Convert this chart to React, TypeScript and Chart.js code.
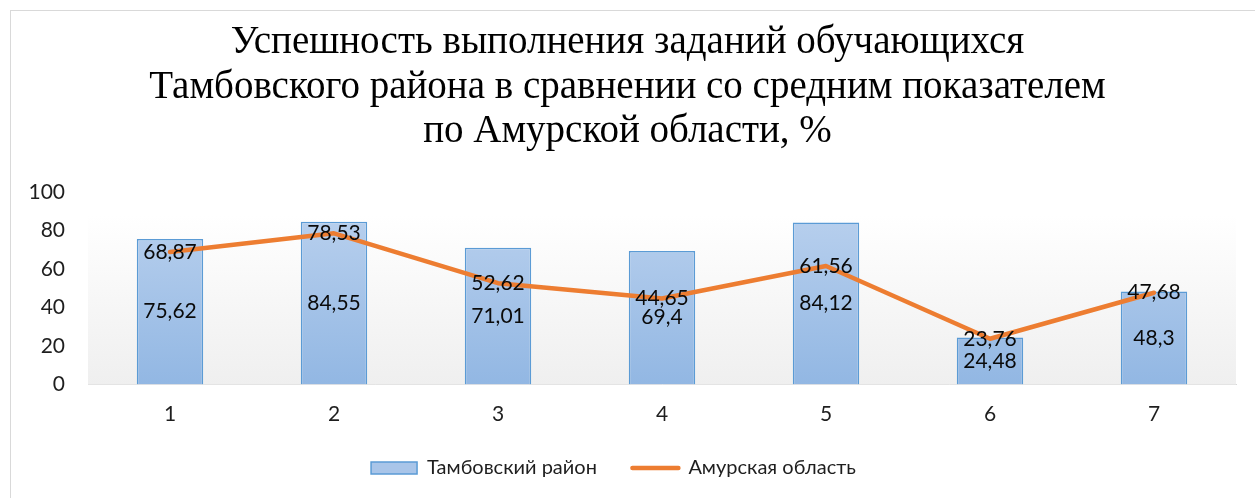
import React, { useEffect, useRef } from "react";
import { Chart, registerables } from "chart.js";

Chart.register(...registerables);

const titleLines = [
  "Успешность выполнения заданий обучающихся",
  "Тамбовского района в сравнении со средним показателем",
  "по Амурской области, %",
];
const categories = ["1", "2", "3", "4", "5", "6", "7"];
const tambovValues = [75.62, 84.55, 71.01, 69.4, 84.12, 24.48, 48.3];
const amurValues = [68.87, 78.53, 52.62, 44.65, 61.56, 23.76, 47.68];
const seriesNames = ["Тамбовский район", "Амурская область"];

const fmt = (v: number) => String(v).replace(".", ",");

const FONT = "Lato";
const TEXT = "#1e1e1e";

const bgPlugin = {
  id: "plotBg",
  beforeDatasetsDraw(chart: any) {
    const { ctx, chartArea } = chart;
    if (!chartArea) return;
    const g = ctx.createLinearGradient(0, chartArea.top, 0, chartArea.bottom);
    g.addColorStop(0, "#ffffff");
    g.addColorStop(0.12, "#ffffff");
    g.addColorStop(1, "#efefef");
    ctx.save();
    ctx.fillStyle = g;
    ctx.fillRect(chartArea.left, chartArea.top, chartArea.right - chartArea.left, chartArea.bottom - chartArea.top);
    ctx.restore();
  },
};

const legendShiftPlugin = {
  id: "legendShift",
  afterLayout(chart: any) {
    const lg = chart.legend;
    if (lg) {
      lg.left -= 14;
      lg.right -= 14;
    }
  },
};

const labelPlugin = {
  id: "valueLabels",
  afterDatasetsDraw(chart: any) {
    const { ctx } = chart;
    ctx.save();
    ctx.font = `21px ${FONT}`;
    ctx.fillStyle = "#0a0a0a";
    ctx.textAlign = "center";
    ctx.textBaseline = "middle";
    const barMeta = chart.getDatasetMeta(0);
    barMeta.data.forEach((el: any, i: number) => {
      const y = (el.y + el.base) / 2;
      ctx.fillText(fmt(tambovValues[i]), el.x, y);
    });
    const lineMeta = chart.getDatasetMeta(1);
    lineMeta.data.forEach((el: any, i: number) => {
      ctx.fillText(fmt(amurValues[i]), el.x, el.y);
    });
    ctx.restore();
  },
};

export default function App() {
  const ref = useRef<HTMLCanvasElement | null>(null);

  useEffect(() => {
    if (!ref.current) return;
    const chart = new Chart(ref.current, {
      type: "bar",
      data: {
        labels: categories,
        datasets: [
          {
            type: "bar",
            label: seriesNames[0],
            data: tambovValues,
            order: 1,
            backgroundColor: (c: any) => {
              const area = c.chart.chartArea;
              if (!area) return "#a6c3e8";
              const g = c.chart.ctx.createLinearGradient(0, area.top, 0, area.bottom);
              g.addColorStop(0, "#bdd3ef");
              g.addColorStop(1, "#92b7e3");
              return g;
            },
            borderColor: "#5b9bd5",
            borderWidth: 1.5,
            categoryPercentage: 1,
            barPercentage: 0.405,
          } as any,
          {
            type: "line",
            label: seriesNames[1],
            data: amurValues,
            order: 0,
            borderColor: "#ed7d31",
            backgroundColor: "#ed7d31",
            borderWidth: 4.5,
            borderJoinStyle: "round",
            borderCapStyle: "round",
            pointRadius: 0,
            tension: 0,
          } as any,
        ],
      },
      options: {
        responsive: false,
        animation: false,
        devicePixelRatio: 1,
        layout: { padding: { left: 19, right: 19, top: 0, bottom: 10 } },
        plugins: {
          tooltip: { enabled: false },
          title: {
            display: true,
            text: titleLines,
            color: "#000000",
            font: { family: "Liberation Serif", size: 39, weight: "normal", lineHeight: 1.141 },
            padding: { top: 21, bottom: 37.5 },
          },
          legend: {
            position: "bottom",
            labels: {
              color: TEXT,
              font: { family: FONT, size: 20 },
              usePointStyle: true,
              pointStyleWidth: 46,
              boxHeight: 12,
              padding: 35.5,
              generateLabels: () => [
                {
                  text: seriesNames[0],
                  fillStyle: "#a9c5e9",
                  strokeStyle: "#5b9bd5",
                  lineWidth: 1.5,
                  pointStyle: "rect",
                  datasetIndex: 0,
                  hidden: false,
                  fontColor: TEXT,
                },
                {
                  text: seriesNames[1],
                  fillStyle: "#ed7d31",
                  strokeStyle: "#ed7d31",
                  lineWidth: 4.5,
                  lineCap: "round",
                  pointStyle: "line",
                  datasetIndex: 1,
                  hidden: false,
                  fontColor: TEXT,
                },
              ],
            },
          },
        },
        scales: {
          x: {
            grid: { display: false, drawTicks: false },
            border: { display: true, color: "#d9d9d9", width: 1 },
            ticks: { color: TEXT, font: { family: FONT, size: 21 }, padding: 17 },
            afterFit: (s: any) => {
              s.height = 38;
            },
          },
          y: {
            min: 0,
            max: 100,
            grid: { display: false, drawTicks: false },
            border: { display: false },
            ticks: { stepSize: 20, color: TEXT, font: { family: FONT, size: 21 }, padding: 23 },
            afterFit: (s: any) => {
              s.width = 69;
            },
          },
        },
      },
      plugins: [bgPlugin, legendShiftPlugin, labelPlugin],
    } as any);
    return () => chart.destroy();
  }, []);

  return (
    <div
      style={{
        position: "fixed",
        left: 0,
        top: 0,
        width: 1255,
        height: 498,
        overflow: "hidden",
        background: "#ffffff",
      }}
    >
      <div
        style={{
          position: "absolute",
          left: 10,
          top: 10,
          width: 1400,
          height: 700,
          border: "1.5px solid #d9d9d9",
          boxSizing: "border-box",
        }}
      />
      <canvas
        ref={ref}
        width={1255}
        height={498}
        style={{ position: "absolute", left: 0, top: 0, width: 1255, height: 498 }}
      />
    </div>
  );
}
